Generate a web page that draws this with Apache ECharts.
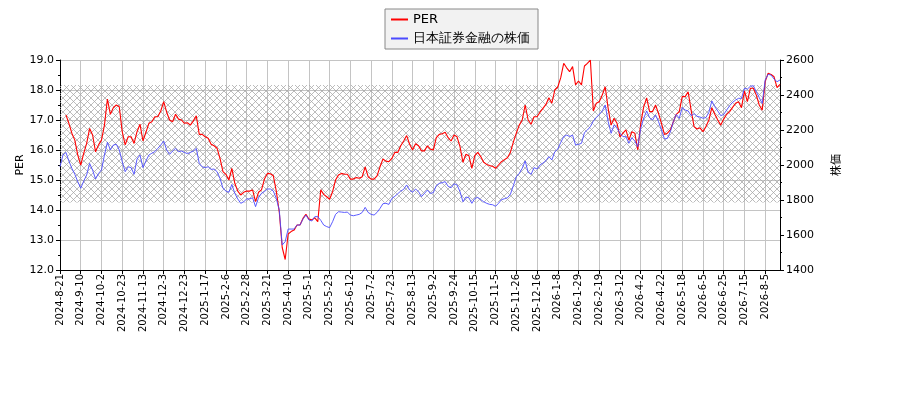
<!DOCTYPE html>
<html>
<head>
<meta charset="utf-8">
<script src="https://cdn.jsdelivr.net/npm/echarts@6/dist/echarts.min.js"></script>
<style>
  html, body { margin: 0; padding: 0; background: #fff; }
  #main { width: 900px; height: 400px; }
</style>
</head>
<body>
<div id="main"></div>
<script>
// tick labels, one every 7 points (each point = about 2 trading days)
var tickDates = ['2024-8-21','2024-9-10','2024-10-2','2024-10-23','2024-11-13','2024-12-3','2024-12-23',
  '2025-1-17','2025-2-6','2025-2-28','2025-3-21','2025-4-10','2025-5-1','2025-5-23','2025-6-12','2025-7-2',
  '2025-7-23','2025-8-13','2025-9-2','2025-9-24','2025-10-15','2025-11-5','2025-11-26','2025-12-16',
  '2026-1-8','2026-1-29','2026-2-19','2026-3-12','2026-4-2','2026-4-22','2026-5-18','2026-6-5',
  '2026-6-25','2026-7-15','2026-8-5'];

var perValues = [null,null,17.17,16.89,16.56,16.33,15.83,15.5,15.89,16.22,
  16.72,16.5,15.94,16.17,16.33,16.83,17.7,17.19,17.41,17.5,
  17.44,16.61,16.17,16.44,16.44,16.22,16.61,16.86,16.3,16.59,
  16.89,16.94,17.11,17.11,17.3,17.61,17.26,17.0,16.94,17.19,
  17.03,17.0,16.89,16.91,16.83,16.97,17.14,16.52,16.52,16.44,
  16.39,16.19,16.14,16.06,15.72,15.28,15.19,15.0,15.39,14.89,
  14.63,14.5,14.59,14.63,14.63,14.67,14.28,14.59,14.67,15.03,
  15.22,15.21,15.14,14.63,13.94,12.75,12.35,13.2,13.28,13.33,
  13.5,13.5,13.72,13.86,13.7,13.67,13.74,13.61,14.67,14.52,
  14.44,14.36,14.61,15.0,15.17,15.22,15.19,15.19,15.03,15.03,
  15.08,15.06,15.11,15.44,15.11,15.03,15.03,15.14,15.44,15.7,
  15.63,15.61,15.72,15.92,15.92,16.14,16.3,16.48,16.19,16.0,
  16.21,16.14,15.97,15.97,16.14,16.03,16.0,16.41,16.52,16.54,
  16.59,16.41,16.3,16.5,16.44,16.11,15.59,15.86,15.81,15.39,
  15.81,15.92,15.78,15.59,15.52,15.48,15.46,15.39,15.5,15.61,
  15.68,15.74,15.92,16.26,16.56,16.83,17.0,17.5,17.0,16.86,
  17.11,17.11,17.26,17.39,17.52,17.74,17.56,18.0,18.1,18.41,
  18.89,18.74,18.61,18.78,18.17,18.3,18.17,18.8,18.89,19.0,
  17.3,17.56,17.61,17.83,18.11,17.39,16.83,17.06,16.89,16.44,
  16.56,16.67,16.33,16.61,16.56,16.0,16.89,17.44,17.74,17.28,
  17.28,17.5,17.22,16.89,16.52,16.56,16.67,16.94,17.19,17.28,
  17.78,17.78,17.94,17.33,16.78,16.7,16.74,16.61,16.78,17.0,
  17.41,17.19,17.0,16.83,17.03,17.19,17.28,17.42,17.56,17.61,
  17.41,17.97,17.61,18.06,18.06,17.83,17.5,17.33,18.28,18.56,
  18.52,18.44,18.08,18.19];

var priceValues = [1990,2057,2072,2023,1981,1947,1905,1867,1908,1943,
  2009,1971,1920,1952,1971,2057,2130,2086,2114,2118,
  2086,2019,1962,1990,1985,1947,2034,2057,1985,2023,
  2057,2067,2076,2095,2114,2137,2086,2061,2080,2095,
  2076,2080,2072,2065,2072,2080,2095,2009,1990,1985,
  1990,1975,1977,1962,1924,1867,1851,1844,1889,1838,
  1806,1781,1790,1806,1806,1813,1762,1813,1838,1848,
  1863,1863,1851,1809,1743,1543,1562,1634,1634,1634,
  1657,1657,1691,1714,1686,1680,1705,1705,1684,1657,
  1648,1642,1676,1718,1733,1731,1729,1731,1714,1710,
  1714,1718,1729,1758,1729,1718,1714,1729,1752,1779,
  1781,1775,1809,1821,1836,1851,1861,1886,1857,1844,
  1863,1848,1819,1838,1857,1838,1842,1882,1895,1899,
  1905,1878,1870,1893,1886,1848,1790,1817,1813,1781,
  1809,1815,1802,1790,1781,1775,1773,1764,1781,1802,
  1807,1813,1832,1882,1933,1952,1981,2023,1958,1947,
  1985,1977,2000,2011,2025,2048,2029,2076,2091,2129,
  2162,2171,2162,2171,2114,2118,2124,2185,2200,2219,
  2251,2272,2289,2309,2343,2248,2181,2229,2210,2181,
  2162,2162,2124,2156,2137,2105,2210,2267,2309,2270,
  2257,2286,2248,2200,2149,2152,2190,2248,2289,2267,
  2328,2314,2309,2282,2293,2278,2274,2267,2271,2301,
  2366,2333,2309,2282,2289,2314,2339,2358,2371,2381,
  2381,2438,2434,2450,2453,2419,2385,2352,2486,2518,
  2514,2491,2476,2486];

// shaded PER band
var bandLow = 14.25;
var bandHigh = 18.17;

// category names: tick date on every 7th point, hidden unique names between
var categories = perValues.map(function (v, i) {
  var base = tickDates[Math.floor(i / 7)];
  return i % 7 === 0 ? base : base + '#' + (i % 7);
});

function hatch() {
  var s = 7;
  var c = document.createElement('canvas');
  c.width = s; c.height = s;
  var g = c.getContext('2d');
  g.strokeStyle = '#a6a6a6';
  g.lineWidth = 0.75;
  g.beginPath();
  g.moveTo(0, 0); g.lineTo(s, s);
  g.moveTo(s, 0); g.lineTo(0, s);
  g.stroke();
  return c;
}

var font = 'DejaVu Sans';
var myChart = echarts.init(document.getElementById('main'));
var option = {
  animation: false,
  backgroundColor: '#fff',
  textStyle: { fontFamily: font },
  grid: { left: 60, right: 120, top: 60, bottom: 130 },
  legend: {
    left: 385, top: 9,
    orient: 'vertical',
    padding: [4, 8, 4, 6],
    itemGap: 6,
    itemWidth: 17, itemHeight: 2,
    backgroundColor: '#f2f2f2',
    borderColor: '#888',
    borderWidth: 1,
    textStyle: { fontFamily: font, fontSize: 13, color: '#000' },
    data: [
      { name: 'PER', icon: 'rect' },
      { name: '日本証券金融の株価', icon: 'rect' }
    ]
  },
  xAxis: {
    type: 'category',
    data: categories,
    boundaryGap: false,
    axisLine: { lineStyle: { color: '#000', width: 1 } },
    axisTick: { interval: 6, length: 4, lineStyle: { color: '#000' } },
    axisLabel: {
      interval: 6, rotate: 90, fontSize: 10, color: '#000', margin: 4,
      fontFamily: font
    },
    splitLine: { show: true, interval: 6, lineStyle: { color: '#c4c4c4', width: 1 } }
  },
  yAxis: [
    {
      type: 'value', min: 12, max: 19, interval: 1,
      name: 'PER', nameLocation: 'middle', nameGap: 34, nameRotate: 90,
      nameMoveOverlap: false,
      nameTextStyle: { fontSize: 11, color: '#000', fontFamily: font },
      axisLine: { show: true, lineStyle: { color: '#000' } },
      axisTick: { show: true, length: 4, lineStyle: { color: '#000' } },
      minorTick: { show: true, splitNumber: 2, length: 2, lineStyle: { color: '#000' } },
      axisLabel: {
        fontSize: 11, color: '#000', margin: 6, fontFamily: font,
        formatter: function (v) { return v.toFixed(1); }
      },
      splitLine: { show: true, lineStyle: { color: '#c4c4c4', width: 1 } }
    },
    {
      type: 'value', min: 1400, max: 2600, interval: 200,
      name: '株価', nameLocation: 'middle', nameGap: 50, nameRotate: 90,
      nameMoveOverlap: false,
      nameTextStyle: { fontSize: 11, color: '#000', fontFamily: 'Noto Sans CJK JP' },
      position: 'right',
      axisLine: { show: true, lineStyle: { color: '#000' } },
      axisTick: { show: true, length: 4, lineStyle: { color: '#000' } },
      minorTick: { show: true, splitNumber: 2, length: 2, lineStyle: { color: '#000' } },
      axisLabel: {
        fontSize: 11, color: '#000', margin: 6, fontFamily: font,
        formatter: function (v) { return String(v); }
      },
      splitLine: { show: false }
    }
  ],
  series: [
    {
      name: 'PER',
      type: 'line',
      yAxisIndex: 0,
      data: perValues,
      showSymbol: false,
      connectNulls: false,
      color: '#ff0000',
      lineStyle: { color: '#ff0000', width: 1.1 },
      markArea: {
        silent: true,
        itemStyle: { color: { image: hatch(), repeat: 'repeat' } },
        data: [[{ yAxis: bandLow }, { yAxis: bandHigh }]]
      }
    },
    {
      name: '日本証券金融の株価',
      type: 'line',
      yAxisIndex: 1,
      data: priceValues,
      showSymbol: false,
      color: '#4a4aff',
      lineStyle: { color: '#4a4aff', width: 0.9 }
    }
  ]
};
myChart.setOption(option);
</script>
</body>
</html>
